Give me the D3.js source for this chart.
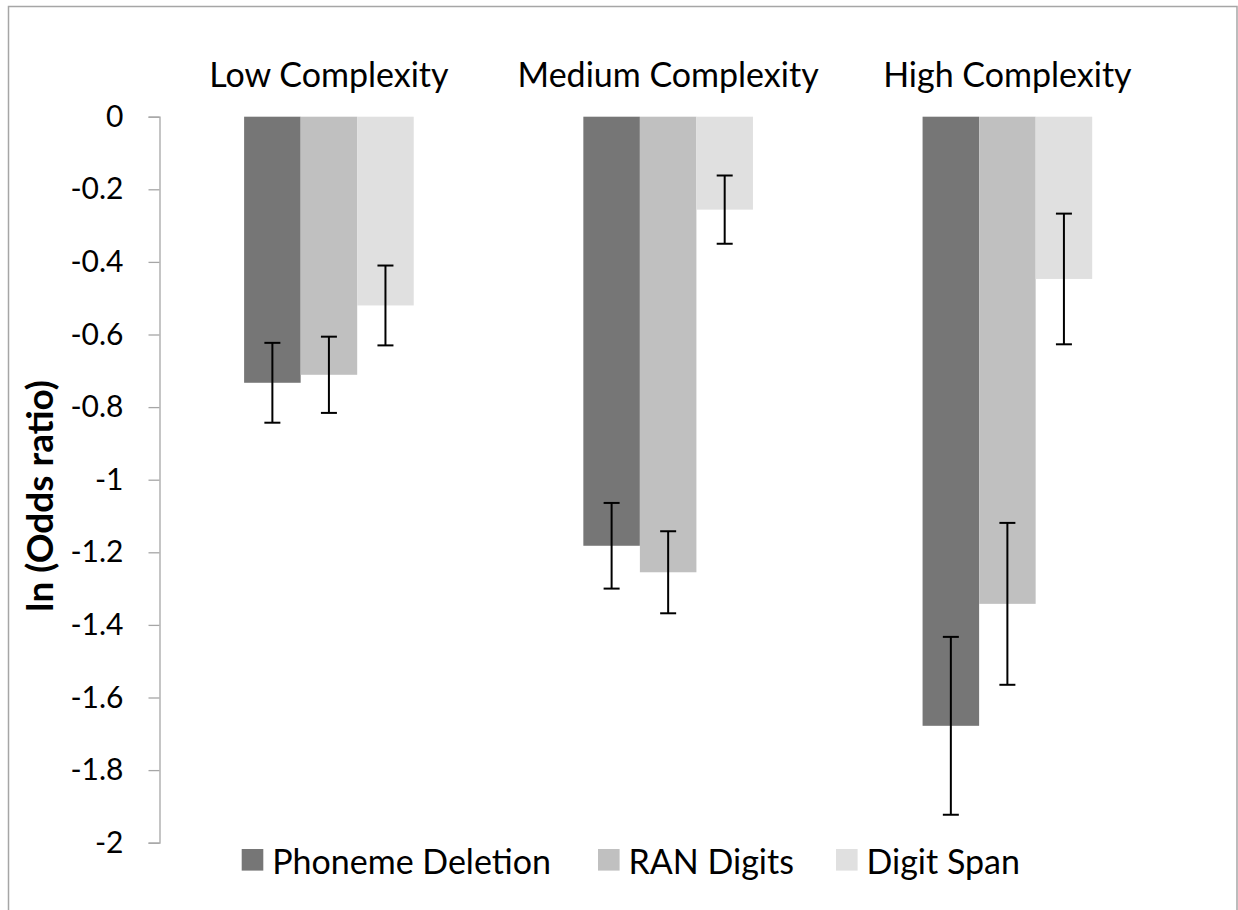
<!DOCTYPE html>
<html><head><meta charset="utf-8">
<script src="https://cdn.jsdelivr.net/npm/d3@7"></script>
<style>body{margin:0;background:#fff}svg{display:block}text{font-family:Lato,"Noto Sans",sans-serif}</style>
</head><body>
<svg id="c" width="1238" height="910"></svg>
<script>
const categories = ["Low Complexity", "Medium Complexity", "High Complexity"];
const seriesNames = ["Phoneme Deletion", "RAN Digits", "Digit Span"];
const phonemeDeletion = [-0.733, -1.182, -1.678];
const ranDigits = [-0.711, -1.255, -1.342];
const digitSpan = [-0.520, -0.256, -0.447];
const errPhoneme = [0.110, 0.118, 0.245];
const errRan = [0.105, 0.113, 0.223];
const errDigit = [0.110, 0.094, 0.180];
const tickValues = [0, -0.2, -0.4, -0.6, -0.8, -1, -1.2, -1.4, -1.6, -1.8, -2];
const tickLabels = ["0", "-0.2", "-0.4", "-0.6", "-0.8", "-1", "-1.2", "-1.4", "-1.6", "-1.8", "-2"];
const yTitle = "ln (Odds ratio)";
const colors = ["#767676", "#c0c0c0", "#e0e0e0"];

const values = [phonemeDeletion, ranDigits, digitSpan];
const errors = [errPhoneme, errRan, errDigit];

const svg = d3.select("#c");
// outer chart border
svg.append("rect").attr("x", 8.5).attr("y", 6.5).attr("width", 1228.5).attr("height", 920)
  .attr("fill", "none").attr("stroke", "#a6a6a6").attr("stroke-width", 1.5);

const y = d3.scaleLinear().domain([0, -2]).range([116.7, 842.7]);
const x0 = d3.scaleBand().domain(categories).range([159.3, 1177]).padding(0);
const bw = x0.bandwidth();
const x1 = d3.scaleBand().domain(seriesNames).range([bw / 4, bw * 3 / 4]).padding(0);

// bars
const groups = svg.append("g").selectAll("g").data(categories).join("g")
  .attr("transform", d => `translate(${x0(d)},0)`);
groups.each(function (cat, ci) {
  const g = d3.select(this);
  seriesNames.forEach((s, si) => {
    const v = values[si][ci];
    g.append("rect").attr("x", x1(s)).attr("width", x1.bandwidth())
      .attr("y", y(0)).attr("height", y(v) - y(0)).attr("fill", colors[si]);
  });
  seriesNames.forEach((s, si) => {
    const v = values[si][ci], e = errors[si][ci];
    const cx = x1(s) + x1.bandwidth() / 2;
    const eg = g.append("g").attr("stroke", "#000").attr("stroke-width", 2);
    eg.append("line").attr("x1", cx).attr("x2", cx).attr("y1", y(v + e)).attr("y2", y(v - e));
    eg.append("line").attr("x1", cx - 8).attr("x2", cx + 8).attr("y1", y(v + e)).attr("y2", y(v + e));
    eg.append("line").attr("x1", cx - 8).attr("x2", cx + 8).attr("y1", y(v - e)).attr("y2", y(v - e));
  });
});

// y axis
const axis = d3.axisLeft(y).tickValues(tickValues)
  .tickFormat((d, i) => tickLabels[i]).tickSize(11).tickSizeOuter(11).tickPadding(25);
const ag = svg.append("g").attr("transform", "translate(159.5,0)").call(axis);
ag.selectAll("path,line").attr("stroke", "#a6a6a6").attr("stroke-width", 1.3);
ag.selectAll("text").attr("font-size", 30).attr("fill", "#000")
  .style("font-family", "Lato, 'Noto Sans', sans-serif");

// y title
svg.append("text").attr("transform", "translate(53,496) rotate(-90)")
  .attr("text-anchor", "middle").attr("font-size", 37).attr("font-weight", "bold")
  .text(yTitle);

// category labels
svg.append("g").selectAll("text").data(categories).join("text")
  .attr("x", d => x0(d) + bw / 2).attr("y", 87).attr("text-anchor", "middle")
  .attr("font-size", 34).text(d => d);

// legend
const legendX = [241.7, 598, 836];
const lg = svg.append("g");
seriesNames.forEach((s, i) => {
  lg.append("rect").attr("x", legendX[i]).attr("y", 849).attr("width", 21.6).attr("height", 21.6).attr("fill", colors[i]);
  lg.append("text").attr("x", legendX[i] + 30.5).attr("y", 874).attr("font-size", 34).text(s);
});
</script>
</body></html>
